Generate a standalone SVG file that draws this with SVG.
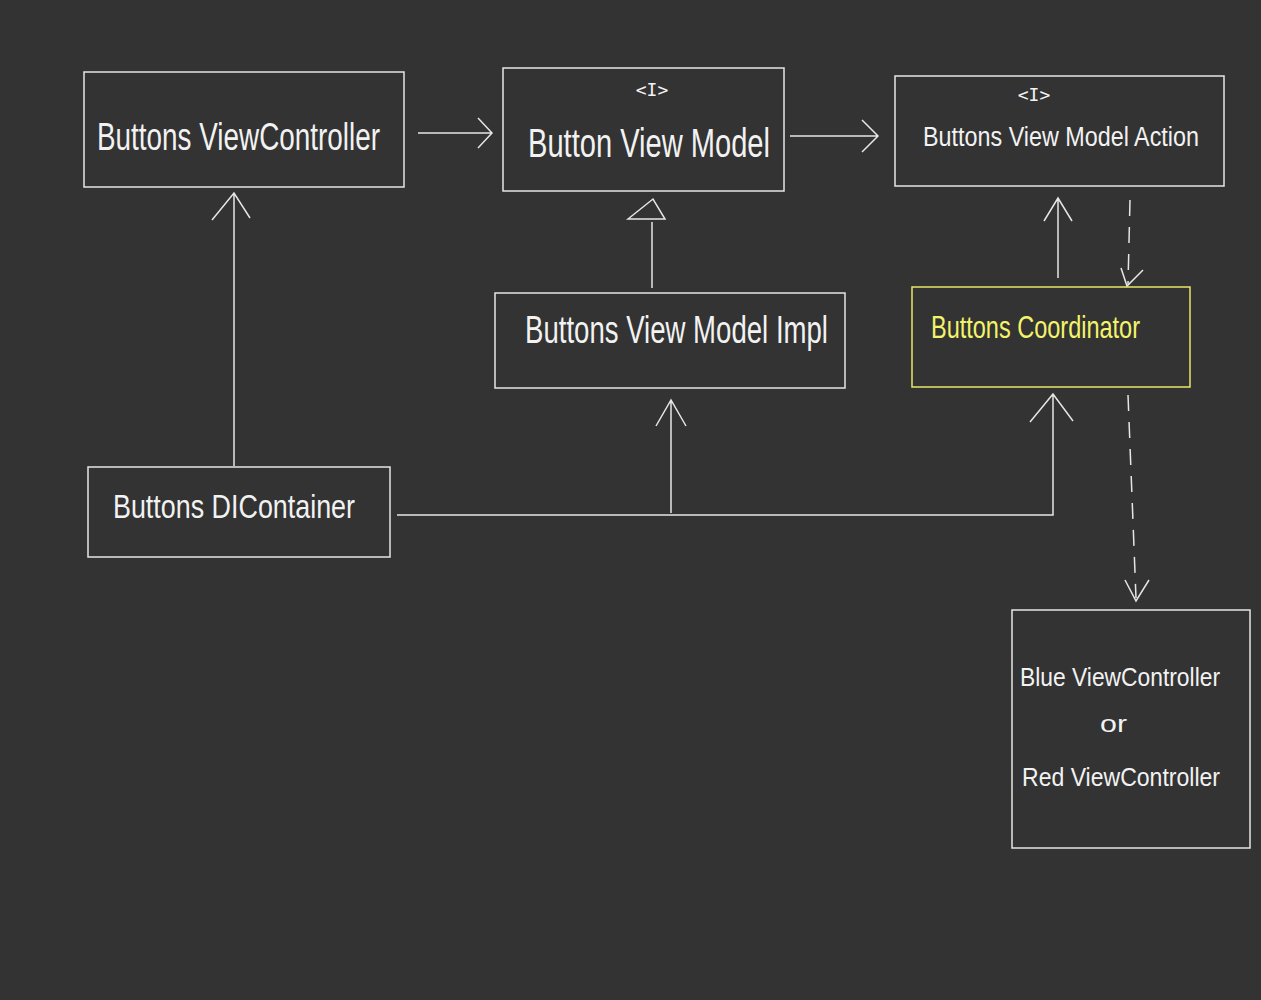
<svg xmlns="http://www.w3.org/2000/svg" width="1261" height="1000" viewBox="0 0 1261 1000">
<style>
.box{fill:none;stroke:#e6e6e6;stroke-width:1.5}
.ybox{fill:none;stroke:#e8e86a;stroke-width:1.5}
.lbl{font-family:"Liberation Sans","DejaVu Sans",sans-serif;fill:#f2f2f2;font-weight:normal}
.ylbl{font-family:"Liberation Sans","DejaVu Sans",sans-serif;fill:#f4f46a}
.iface{font-family:"DejaVu Sans Mono","Liberation Mono",monospace;fill:#f2f2f2;font-size:18px}
.ln{fill:none;stroke:#e6e6e6;stroke-width:1.5}
.dash{fill:none;stroke:#e6e6e6;stroke-width:1.5;stroke-dasharray:16 11}
</style>
<rect width="1261" height="1000" fill="#333333"/>
<g id="connectors">
<path class="ln" d="M418,133 H492 M478,118 L492,133 L478,148"/>
<path class="ln" d="M790,136 H878 M862,120 L878,136 L862,152"/>
<path class="ln" d="M652,288 V222"/>
<polygon class="ln" points="628,219 653,199 665,219"/>
<path class="ln" d="M234,466 V193 M212,220 L234,193 L250,218"/>
<path class="ln" d="M1058,278 V198 M1044,221 L1058,198 L1072,221"/>
<path class="dash" d="M1130,200 L1128,284"/>
<path class="ln" d="M1121,268 L1127,286 L1143,270"/>
<path class="ln" d="M397,515 H1053 V394 M1030,422 L1053,394 L1073,421"/>
<path class="ln" d="M671,513 V400 M656,426 L671,400 L686,426"/>
<path class="dash" d="M1128,395 L1136,598"/>
<path class="ln" d="M1125,580 L1136,601 L1149,580"/>
</g>
<g id="ButtonsViewController">
<rect class="box" x="84" y="72" width="320" height="115"/>
<text class="lbl" x="97" y="150" font-size="38" textLength="283" lengthAdjust="spacingAndGlyphs">Buttons ViewController</text>
</g>
<g id="ButtonViewModel">
<rect class="box" x="503" y="68" width="281" height="123"/>
<text class="iface" x="652" y="96" text-anchor="middle">&lt;I&gt;</text>
<text class="lbl" x="528" y="157" font-size="40" textLength="242" lengthAdjust="spacingAndGlyphs">Button View Model</text>
</g>
<g id="ButtonsViewModelAction">
<rect class="box" x="895" y="76" width="329" height="110"/>
<text class="iface" x="1034" y="101" text-anchor="middle">&lt;I&gt;</text>
<text class="lbl" x="923" y="146" font-size="27" textLength="276" lengthAdjust="spacingAndGlyphs">Buttons View Model Action</text>
</g>
<g id="ButtonsViewModelImpl">
<rect class="box" x="495" y="293" width="350" height="95"/>
<text class="lbl" x="525" y="343" font-size="38" textLength="303" lengthAdjust="spacingAndGlyphs">Buttons View Model Impl</text>
</g>
<g id="ButtonsCoordinator">
<rect class="ybox" x="912" y="287" width="278" height="100"/>
<text class="ylbl" x="931" y="338" font-size="32" textLength="209" lengthAdjust="spacingAndGlyphs">Buttons Coordinator</text>
</g>
<g id="ButtonsDIContainer">
<rect class="box" x="88" y="467" width="302" height="90"/>
<text class="lbl" x="113" y="518" font-size="34" textLength="242" lengthAdjust="spacingAndGlyphs">Buttons DIContainer</text>
</g>
<g id="BlueOrRedViewController">
<rect class="box" x="1012" y="610" width="238" height="238"/>
<text class="lbl" x="1020" y="686" font-size="26" textLength="200" lengthAdjust="spacingAndGlyphs">Blue ViewController</text>
<text class="lbl" x="1100" y="732" font-size="24" textLength="27" lengthAdjust="spacingAndGlyphs">or</text>
<text class="lbl" x="1022" y="786" font-size="26" textLength="198" lengthAdjust="spacingAndGlyphs">Red ViewController</text>
</g>
</svg>
